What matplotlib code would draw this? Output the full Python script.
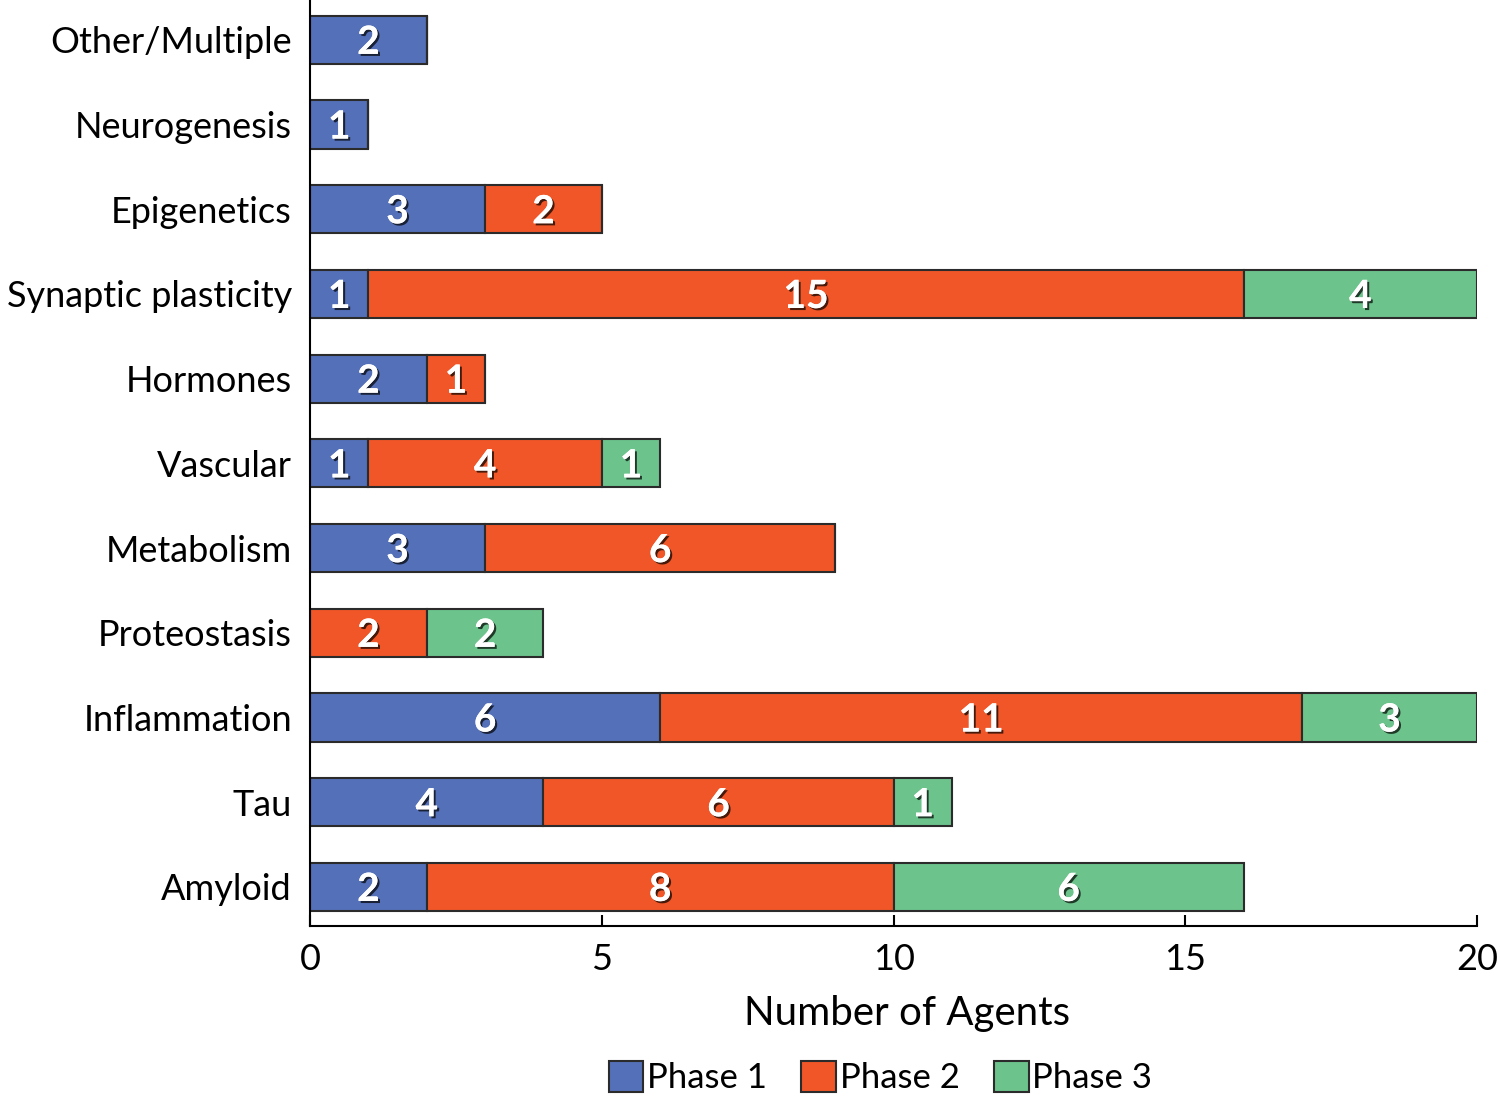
import numpy as np
import matplotlib
matplotlib.use("Agg")
import matplotlib.pyplot as plt
import matplotlib.patheffects as pe
from matplotlib.patches import Patch

categories = ["Amyloid", "Tau", "Inflammation", "Proteostasis", "Metabolism",
              "Vascular", "Hormones", "Synaptic plasticity", "Epigenetics",
              "Neurogenesis", "Other/Multiple"]
phase1 = [2, 4, 6, 0, 3, 1, 2, 1, 3, 1, 2]
phase2 = [8, 6, 11, 2, 6, 4, 1, 15, 2, 0, 0]
phase3 = [6, 1, 3, 2, 0, 1, 0, 4, 0, 0, 0]
series_names = ["Phase 1", "Phase 2", "Phase 3"]
colors = ["#5470B9", "#F05627", "#6CC38C"]

plt.rcParams['font.family'] = ['Lato', 'DejaVu Sans']

fig = plt.figure(figsize=(15, 10.97), dpi=100)
ax = fig.add_axes([0.2067, 0.156, 0.778, 0.844])

y = np.arange(len(categories))
left = np.zeros(len(categories))
shadow = [pe.withSimplePatchShadow(offset=(1.5, -1.5), shadow_rgbFace='black', alpha=0.7),
          pe.Normal()]
for vals, name, col in zip([phase1, phase2, phase3], series_names, colors):
    vals = np.array(vals)
    bars = ax.barh(y, vals, left=left, height=0.57, color=col,
                   edgecolor='#2b2b2b', linewidth=1.5, label=name)
    for i, v in enumerate(vals):
        if v > 0:
            ax.text(left[i] + v / 2, y[i] - 0.03, str(v), ha='center', va='center',
                    color='white', fontsize=28, fontweight='bold',
                    path_effects=shadow)
    left = left + vals

ax.set_xlim(0, 20)
ax.set_ylim(-0.46, 10.47)
ax.set_xticks([0, 5, 10, 15, 20])
ax.set_yticks(y)
ax.set_yticklabels(categories)
ax.tick_params(axis='x', direction='in', length=8, width=1.5, labelsize=26, pad=12)
ax.tick_params(axis='y', length=0, labelsize=26, pad=13)
for s in ['top', 'right']:
    ax.spines[s].set_visible(False)
for s in ['left', 'bottom']:
    ax.spines[s].set_linewidth(1.5)
ax.set_xlabel("Number of Agents", fontsize=29, labelpad=14)
ax.xaxis.label.set_x(0.512)

handles = [Patch(facecolor=c, edgecolor='#2b2b2b', linewidth=1.5) for c in colors]
fig.legend(handles, series_names, loc='center', bbox_to_anchor=(0.587, 0.018),
           ncol=3, frameon=False, fontsize=25, handlelength=1.0, handleheight=1.0,
           handletextpad=0.1, columnspacing=1.0)

fig.savefig("out.png", dpi=100)
